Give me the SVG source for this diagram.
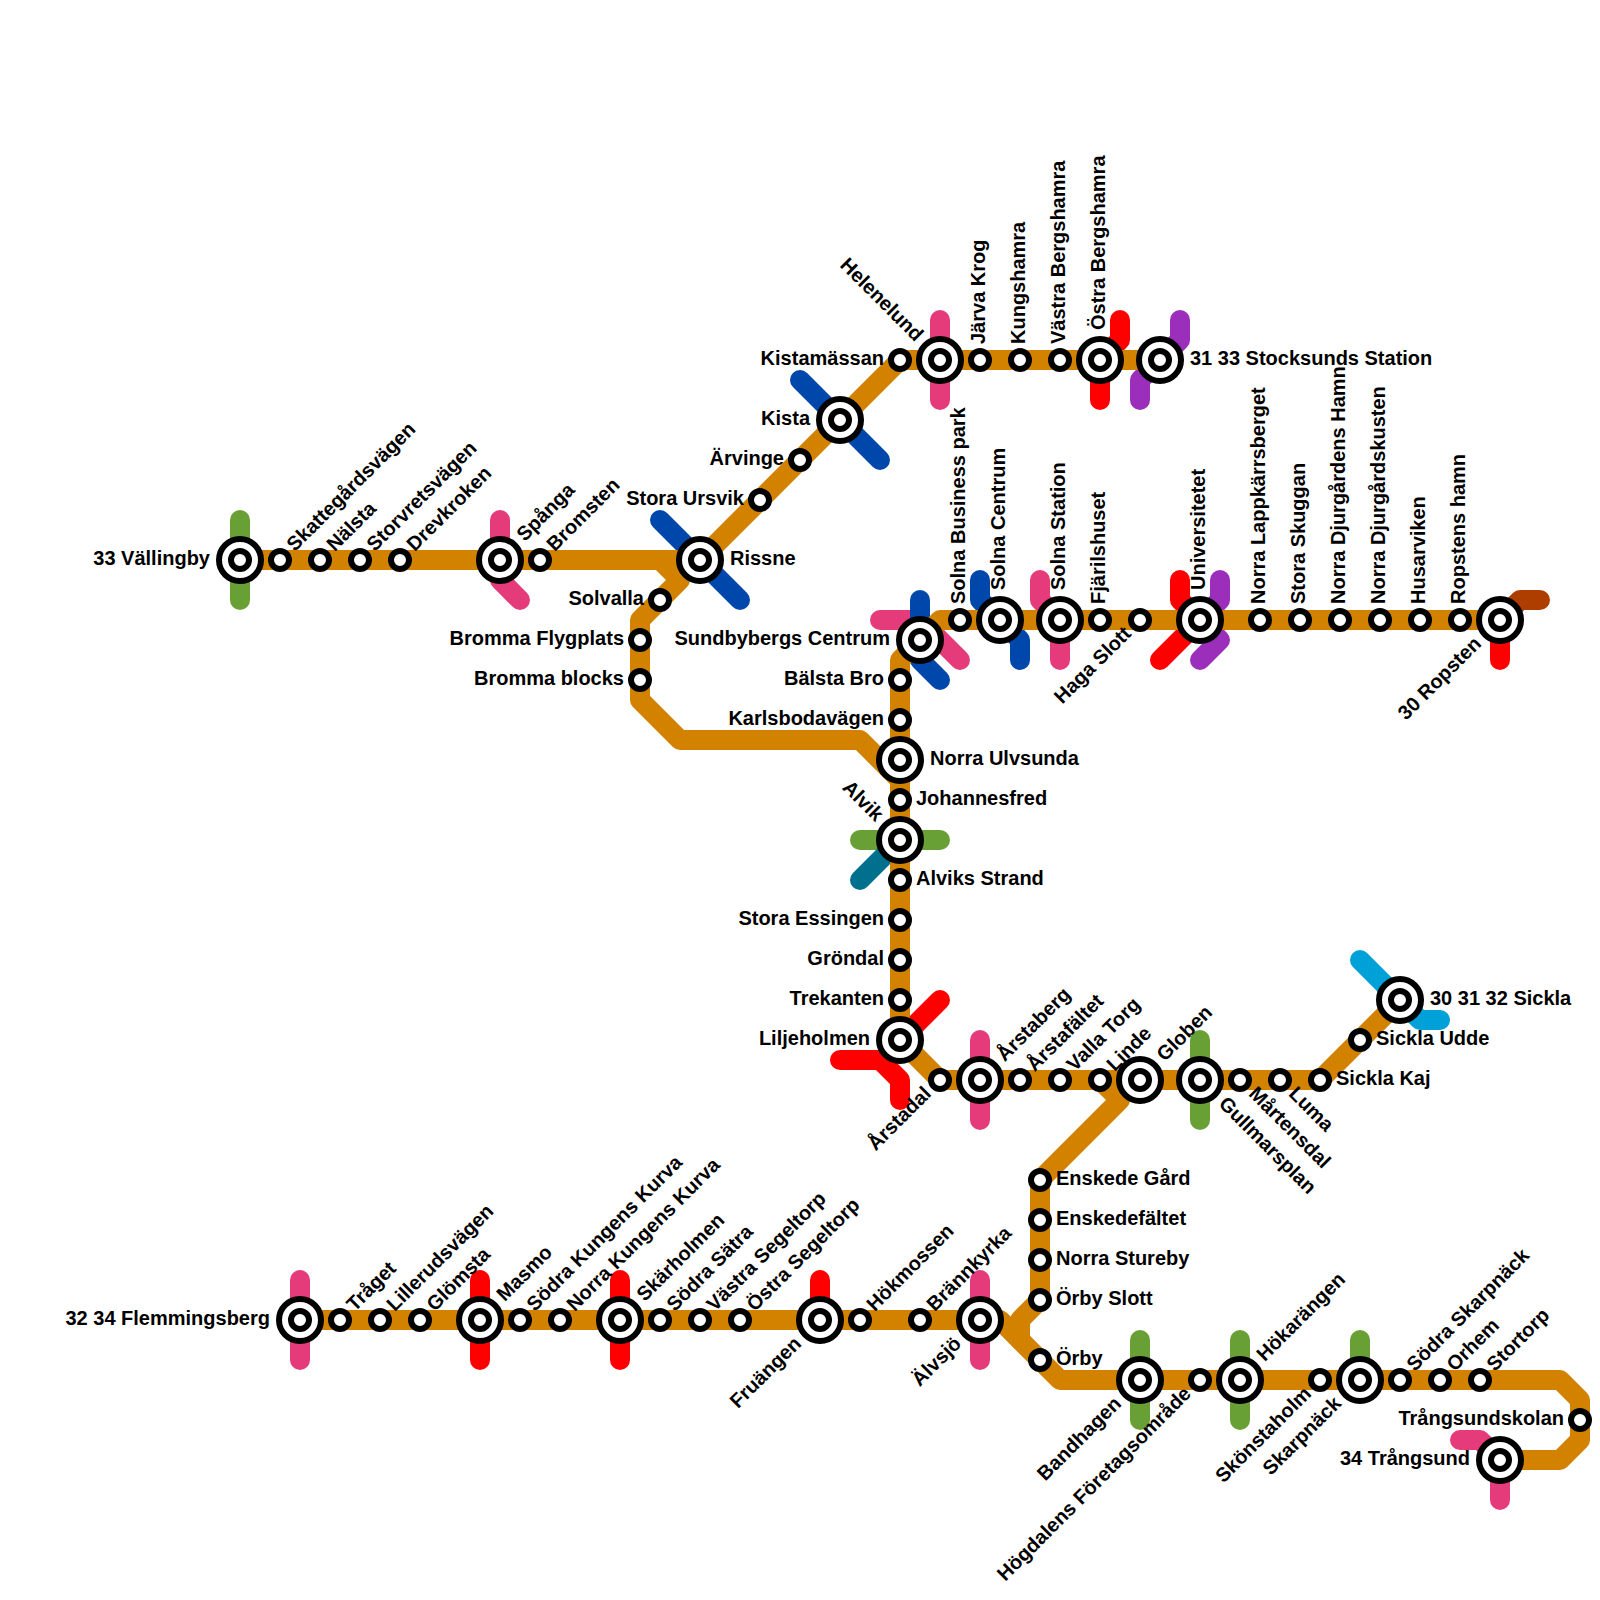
<svg xmlns="http://www.w3.org/2000/svg" width="1600" height="1600" viewBox="0 0 1600 1600">
<style>
path{fill:none;stroke-width:20;stroke-linecap:round;stroke-linejoin:round}
.or{stroke:#d38200}.pk{stroke:#e63b7a}.gr{stroke:#69a035}.bl{stroke:#0047ab}.rd{stroke:#ff0000}.pu{stroke:#9b2fbb}.br{stroke:#ad3e00}.te{stroke:#00708f}.lb{stroke:#00a0d8}
.o{fill:#fff;stroke:#000;stroke-width:6}
.i{fill:#fff;stroke:#000;stroke-width:6}
text{font-family:"Liberation Sans",Arial,sans-serif;font-weight:700;font-size:20px;fill:#000}
.e{text-anchor:end}
</style>
<rect width="1600" height="1600" fill="#fff"/>
<g id="connectors">
<path class="gr" d="M240 520V600"/>
<path class="pk" d="M500 520V580L520 600"/>
<path class="bl" d="M660 520L740 600"/>
<path class="bl" d="M800 380L880 460"/>
<path class="pk" d="M940 320V400"/>
<path class="rd" d="M1120 320V340L1100 360V400"/>
<path class="pu" d="M1180 320V340L1160 360L1140 380V400"/>
<path class="pk" d="M880 620H920L960 660"/>
<path class="bl" d="M920 600V640M920 660L940 680"/>
<path class="bl" d="M980 580V600L1020 640V660"/>
<path class="pk" d="M1040 580V600L1060 620V660"/>
<path class="rd" d="M1180 580V600L1200 620L1160 660"/>
<path class="pu" d="M1220 580V600L1200 620L1220 640L1200 660"/>
<path class="br" d="M1540 600H1520L1500 620"/>
<path class="rd" d="M1500 620V660"/>
<path class="gr" d="M860 840H940"/>
<path class="te" d="M860 880L900 840"/>
<path class="rd" d="M940 1000L900 1040"/>
<path class="rd" d="M840 1060H880L900 1080V1100"/>
<path class="pk" d="M980 1040V1120"/>
<path class="gr" d="M1200 1040V1120"/>
<path class="lb" d="M1360 960L1420 1020H1440"/>
<path class="pk" d="M300 1280V1360"/>
<path class="rd" d="M480 1280V1360"/>
<path class="rd" d="M620 1280V1360"/>
<path class="rd" d="M820 1280V1320"/>
<path class="pk" d="M980 1280V1360"/>
<path class="gr" d="M1140 1340V1420"/>
<path class="gr" d="M1240 1340V1420"/>
<path class="gr" d="M1360 1340V1380"/>
<path class="pk" d="M1460 1440H1480L1500 1460V1500"/>
<path class="or" d="M240 560H700"/>
<path class="or" d="M660 560L680 580L640 620V700L680 740H860L900 780"/>
<path class="or" d="M700 560L900 360H1160"/>
<path class="or" d="M900 1040V660L940 620H1500"/>
<path class="or" d="M900 1040L940 1080H1320L1400 1000"/>
<path class="or" d="M1100 1080L1120 1100L1040 1180V1300L1020 1320V1340"/>
<path class="or" d="M300 1320H1000L1060 1380H1560L1580 1400V1440L1560 1460H1500"/>
</g>
<g id="n01" transform="translate(240,560)"><circle class="o" r="21"/><circle class="i" r="9"/><text class="e" x="-30" y="5">33 Vällingby</text></g>
<g id="n02" transform="translate(280,560)"><circle class="i" r="9"/><text transform="rotate(-45)" x="16" y="5">Skattegårdsvägen</text></g>
<g id="n03" transform="translate(320,560)"><circle class="i" r="9"/><text transform="rotate(-45)" x="16" y="5">Nälsta</text></g>
<g id="n04" transform="translate(360,560)"><circle class="i" r="9"/><text transform="rotate(-45)" x="16" y="5">Storvretsvägen</text></g>
<g id="n05" transform="translate(400,560)"><circle class="i" r="9"/><text transform="rotate(-45)" x="16" y="5">Drevkroken</text></g>
<g id="n06" transform="translate(500,560)"><circle class="o" r="21"/><circle class="i" r="9"/><text transform="rotate(-45)" x="30" y="5">Spånga</text></g>
<g id="n07" transform="translate(540,560)"><circle class="i" r="9"/><text transform="rotate(-45)" x="16" y="5">Bromsten</text></g>
<g id="n08" transform="translate(700,560)"><circle class="o" r="21"/><circle class="i" r="9"/><text x="30" y="5">Rissne</text></g>
<g id="n09" transform="translate(660,600)"><circle class="i" r="9"/><text class="e" x="-16" y="5">Solvalla</text></g>
<g id="n10" transform="translate(640,640)"><circle class="i" r="9"/><text class="e" x="-16" y="5">Bromma Flygplats</text></g>
<g id="n11" transform="translate(640,680)"><circle class="i" r="9"/><text class="e" x="-16" y="5">Bromma blocks</text></g>
<g id="n12" transform="translate(760,500)"><circle class="i" r="9"/><text class="e" x="-16" y="5">Stora Ursvik</text></g>
<g id="n13" transform="translate(800,460)"><circle class="i" r="9"/><text class="e" x="-16" y="5">Ärvinge</text></g>
<g id="n14" transform="translate(840,420)"><circle class="o" r="21"/><circle class="i" r="9"/><text class="e" x="-30" y="5">Kista</text></g>
<g id="n15" transform="translate(900,360)"><circle class="i" r="9"/><text class="e" x="-16" y="5">Kistamässan</text></g>
<g id="n16" transform="translate(940,360)"><circle class="o" r="21"/><circle class="i" r="9"/><text class="e" transform="rotate(45)" x="-30" y="5">Helenelund</text></g>
<g id="n17" transform="translate(980,360)"><circle class="i" r="9"/><text transform="rotate(-90)" x="16" y="5">Järva Krog</text></g>
<g id="n18" transform="translate(1020,360)"><circle class="i" r="9"/><text transform="rotate(-90)" x="16" y="5">Kungshamra</text></g>
<g id="n19" transform="translate(1060,360)"><circle class="i" r="9"/><text transform="rotate(-90)" x="16" y="5">Västra Bergshamra</text></g>
<g id="n20" transform="translate(1100,360)"><circle class="o" r="21"/><circle class="i" r="9"/><text transform="rotate(-90)" x="30" y="5">Östra Bergshamra</text></g>
<g id="n21" transform="translate(1160,360)"><circle class="o" r="21"/><circle class="i" r="9"/><text x="30" y="5">31 33 Stocksunds Station</text></g>
<g id="n22" transform="translate(920,640)"><circle class="o" r="21"/><circle class="i" r="9"/><text class="e" x="-30" y="5">Sundbybergs Centrum</text></g>
<g id="n23" transform="translate(960,620)"><circle class="i" r="9"/><text transform="rotate(-90)" x="16" y="5">Solna Business park</text></g>
<g id="n24" transform="translate(1000,620)"><circle class="o" r="21"/><circle class="i" r="9"/><text transform="rotate(-90)" x="30" y="5">Solna Centrum</text></g>
<g id="n25" transform="translate(1060,620)"><circle class="o" r="21"/><circle class="i" r="9"/><text transform="rotate(-90)" x="30" y="5">Solna Station</text></g>
<g id="n26" transform="translate(1100,620)"><circle class="i" r="9"/><text transform="rotate(-90)" x="16" y="5">Fjärilshuset</text></g>
<g id="n27" transform="translate(1140,620)"><circle class="i" r="9"/><text class="e" transform="rotate(-45)" x="-16" y="5">Haga Slott</text></g>
<g id="n28" transform="translate(1200,620)"><circle class="o" r="21"/><circle class="i" r="9"/><text transform="rotate(-90)" x="30" y="5">Universitetet</text></g>
<g id="n29" transform="translate(1260,620)"><circle class="i" r="9"/><text transform="rotate(-90)" x="16" y="5">Norra Lappkärrsberget</text></g>
<g id="n30" transform="translate(1300,620)"><circle class="i" r="9"/><text transform="rotate(-90)" x="16" y="5">Stora Skuggan</text></g>
<g id="n31" transform="translate(1340,620)"><circle class="i" r="9"/><text transform="rotate(-90)" x="16" y="5">Norra Djurgårdens Hamn</text></g>
<g id="n32" transform="translate(1380,620)"><circle class="i" r="9"/><text transform="rotate(-90)" x="16" y="5">Norra Djurgårdskusten</text></g>
<g id="n33" transform="translate(1420,620)"><circle class="i" r="9"/><text transform="rotate(-90)" x="16" y="5">Husarviken</text></g>
<g id="n34" transform="translate(1460,620)"><circle class="i" r="9"/><text transform="rotate(-90)" x="16" y="5">Ropstens hamn</text></g>
<g id="n35" transform="translate(1500,620)"><circle class="o" r="21"/><circle class="i" r="9"/><text class="e" transform="rotate(-45)" x="-30" y="5">30 Ropsten</text></g>
<g id="n36" transform="translate(900,680)"><circle class="i" r="9"/><text class="e" x="-16" y="5">Bälsta Bro</text></g>
<g id="n37" transform="translate(900,720)"><circle class="i" r="9"/><text class="e" x="-16" y="5">Karlsbodavägen</text></g>
<g id="n38" transform="translate(900,760)"><circle class="o" r="21"/><circle class="i" r="9"/><text x="30" y="5">Norra Ulvsunda</text></g>
<g id="n39" transform="translate(900,800)"><circle class="i" r="9"/><text x="16" y="5">Johannesfred</text></g>
<g id="n40" transform="translate(900,840)"><circle class="o" r="21"/><circle class="i" r="9"/><text class="e" transform="rotate(45)" x="-30" y="5">Alvik</text></g>
<g id="n41" transform="translate(900,880)"><circle class="i" r="9"/><text x="16" y="5">Alviks Strand</text></g>
<g id="n42" transform="translate(900,920)"><circle class="i" r="9"/><text class="e" x="-16" y="5">Stora Essingen</text></g>
<g id="n43" transform="translate(900,960)"><circle class="i" r="9"/><text class="e" x="-16" y="5">Gröndal</text></g>
<g id="n44" transform="translate(900,1000)"><circle class="i" r="9"/><text class="e" x="-16" y="5">Trekanten</text></g>
<g id="n45" transform="translate(900,1040)"><circle class="o" r="21"/><circle class="i" r="9"/><text class="e" x="-30" y="5">Liljeholmen</text></g>
<g id="n46" transform="translate(940,1080)"><circle class="i" r="9"/><text class="e" transform="rotate(-45)" x="-16" y="5">Årstadal</text></g>
<g id="n47" transform="translate(980,1080)"><circle class="o" r="21"/><circle class="i" r="9"/><text transform="rotate(-45)" x="30" y="5">Årstaberg</text></g>
<g id="n48" transform="translate(1020,1080)"><circle class="i" r="9"/><text transform="rotate(-45)" x="16" y="5">Årstafältet</text></g>
<g id="n49" transform="translate(1060,1080)"><circle class="i" r="9"/><text transform="rotate(-45)" x="16" y="5">Valla Torg</text></g>
<g id="n50" transform="translate(1100,1080)"><circle class="i" r="9"/><text transform="rotate(-45)" x="16" y="5">Linde</text></g>
<g id="n51" transform="translate(1140,1080)"><circle class="o" r="21"/><circle class="i" r="9"/><text transform="rotate(-45)" x="30" y="5">Globen</text></g>
<g id="n52" transform="translate(1200,1080)"><circle class="o" r="21"/><circle class="i" r="9"/><text transform="rotate(45)" x="30" y="5">Gullmarsplan</text></g>
<g id="n53" transform="translate(1240,1080)"><circle class="i" r="9"/><text transform="rotate(45)" x="16" y="5">Mårtensdal</text></g>
<g id="n54" transform="translate(1280,1080)"><circle class="i" r="9"/><text transform="rotate(45)" x="16" y="5">Luma</text></g>
<g id="n55" transform="translate(1320,1080)"><circle class="i" r="9"/><text x="16" y="5">Sickla Kaj</text></g>
<g id="n56" transform="translate(1360,1040)"><circle class="i" r="9"/><text x="16" y="5">Sickla Udde</text></g>
<g id="n57" transform="translate(1400,1000)"><circle class="o" r="21"/><circle class="i" r="9"/><text x="30" y="5">30 31 32 Sickla</text></g>
<g id="n58" transform="translate(1040,1180)"><circle class="i" r="9"/><text x="16" y="5">Enskede Gård</text></g>
<g id="n59" transform="translate(1040,1220)"><circle class="i" r="9"/><text x="16" y="5">Enskedefältet</text></g>
<g id="n60" transform="translate(1040,1260)"><circle class="i" r="9"/><text x="16" y="5">Norra Stureby</text></g>
<g id="n61" transform="translate(1040,1300)"><circle class="i" r="9"/><text x="16" y="5">Örby Slott</text></g>
<g id="n62" transform="translate(1040,1360)"><circle class="i" r="9"/><text x="16" y="5">Örby</text></g>
<g id="n63" transform="translate(300,1320)"><circle class="o" r="21"/><circle class="i" r="9"/><text class="e" x="-30" y="5">32 34 Flemmingsberg</text></g>
<g id="n64" transform="translate(340,1320)"><circle class="i" r="9"/><text transform="rotate(-45)" x="16" y="5">Tråget</text></g>
<g id="n65" transform="translate(380,1320)"><circle class="i" r="9"/><text transform="rotate(-45)" x="16" y="5">Lillerudsvägen</text></g>
<g id="n66" transform="translate(420,1320)"><circle class="i" r="9"/><text transform="rotate(-45)" x="16" y="5">Glömsta</text></g>
<g id="n67" transform="translate(480,1320)"><circle class="o" r="21"/><circle class="i" r="9"/><text transform="rotate(-45)" x="30" y="5">Masmo</text></g>
<g id="n68" transform="translate(520,1320)"><circle class="i" r="9"/><text transform="rotate(-45)" x="16" y="5">Södra Kungens Kurva</text></g>
<g id="n69" transform="translate(560,1320)"><circle class="i" r="9"/><text transform="rotate(-45)" x="16" y="5">Norra Kungens Kurva</text></g>
<g id="n70" transform="translate(620,1320)"><circle class="o" r="21"/><circle class="i" r="9"/><text transform="rotate(-45)" x="30" y="5">Skärholmen</text></g>
<g id="n71" transform="translate(660,1320)"><circle class="i" r="9"/><text transform="rotate(-45)" x="16" y="5">Södra Sätra</text></g>
<g id="n72" transform="translate(700,1320)"><circle class="i" r="9"/><text transform="rotate(-45)" x="16" y="5">Västra Segeltorp</text></g>
<g id="n73" transform="translate(740,1320)"><circle class="i" r="9"/><text transform="rotate(-45)" x="16" y="5">Östra Segeltorp</text></g>
<g id="n74" transform="translate(820,1320)"><circle class="o" r="21"/><circle class="i" r="9"/><text class="e" transform="rotate(-45)" x="-30" y="5">Fruängen</text></g>
<g id="n75" transform="translate(860,1320)"><circle class="i" r="9"/><text transform="rotate(-45)" x="16" y="5">Hökmossen</text></g>
<g id="n76" transform="translate(920,1320)"><circle class="i" r="9"/><text transform="rotate(-45)" x="16" y="5">Brännkyrka</text></g>
<g id="n77" transform="translate(980,1320)"><circle class="o" r="21"/><circle class="i" r="9"/><text class="e" transform="rotate(-45)" x="-30" y="5">Älvsjö</text></g>
<g id="n78" transform="translate(1140,1380)"><circle class="o" r="21"/><circle class="i" r="9"/><text class="e" transform="rotate(-45)" x="-30" y="5">Bandhagen</text></g>
<g id="n79" transform="translate(1200,1380)"><circle class="i" r="9"/><text class="e" transform="rotate(-45)" x="-16" y="5">Högdalens Företagsområde</text></g>
<g id="n80" transform="translate(1240,1380)"><circle class="o" r="21"/><circle class="i" r="9"/><text transform="rotate(-45)" x="30" y="5">Hökarängen</text></g>
<g id="n81" transform="translate(1320,1380)"><circle class="i" r="9"/><text class="e" transform="rotate(-45)" x="-16" y="5">Skönstaholm</text></g>
<g id="n82" transform="translate(1360,1380)"><circle class="o" r="21"/><circle class="i" r="9"/><text class="e" transform="rotate(-45)" x="-30" y="5">Skarpnäck</text></g>
<g id="n83" transform="translate(1400,1380)"><circle class="i" r="9"/><text transform="rotate(-45)" x="16" y="5">Södra Skarpnäck</text></g>
<g id="n84" transform="translate(1440,1380)"><circle class="i" r="9"/><text transform="rotate(-45)" x="16" y="5">Orhem</text></g>
<g id="n85" transform="translate(1480,1380)"><circle class="i" r="9"/><text transform="rotate(-45)" x="16" y="5">Stortorp</text></g>
<g id="n86" transform="translate(1580,1420)"><circle class="i" r="9"/><text class="e" x="-16" y="5">Trångsundskolan</text></g>
<g id="n87" transform="translate(1500,1460)"><circle class="o" r="21"/><circle class="i" r="9"/><text class="e" x="-30" y="5">34 Trångsund</text></g>
</svg>
